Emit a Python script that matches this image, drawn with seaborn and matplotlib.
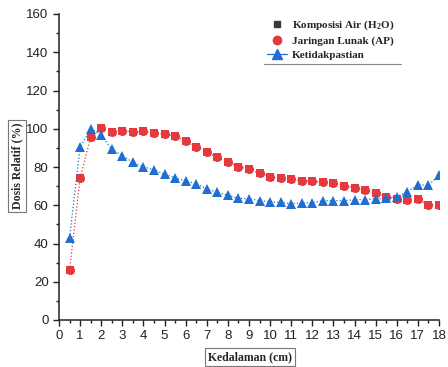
import numpy as np
import pandas as pd
import matplotlib
matplotlib.use("Agg")
import matplotlib.pyplot as plt
from matplotlib.lines import Line2D
from matplotlib.ticker import MultipleLocator
import seaborn as sns

depth = [0.5, 1.0, 1.5, 2.0, 2.5, 3.0, 3.5, 4.0, 4.5, 5.0, 5.5, 6.0, 6.5, 7.0, 7.5, 8.0, 8.5,
         9.0, 9.5, 10.0, 10.5, 11.0, 11.5, 12.0, 12.5, 13.0, 13.5, 14.0, 14.5, 15.0, 15.5,
         16.0, 16.5, 17.0, 17.5, 18.0]
air = [26.1, 74.2, 95.5, 100.2, 98.3, 99.0, 98.3, 98.6, 97.8, 97.1, 96.2, 93.6, 90.6, 87.7,
       85.0, 82.5, 80.2, 78.8, 76.7, 74.9, 74.2, 73.6, 72.7, 72.5, 72.0, 71.8, 70.2, 69.2,
       67.8, 66.6, 64.5, 63.3, 62.7, 63.4, 60.1, 60.1]
jaringan = air
ketidakpastian = [43.0, 90.3, 100.0, 96.7, 89.2, 86.0, 82.4, 80.0, 78.6, 76.1, 74.4, 72.6,
                  71.3, 68.6, 66.7, 65.2, 63.6, 63.4, 62.4, 61.9, 61.5, 60.8, 61.3, 61.3,
                  62.4, 62.4, 62.4, 62.9, 62.9, 63.4, 63.6, 64.5, 67.1, 70.6, 70.4, 75.7]

labels = ["Komposisi Air (H$_\\mathregular{2}$O)", "Jaringan Lunak (AP)", "Ketidakpastian"]

sns.set_style("ticks")
plt.rcParams["font.family"] = ["Liberation Sans", "DejaVu Sans"]

fig = plt.figure(figsize=(4.48, 3.67), dpi=100)
ax = fig.add_axes([59 / 448, 47 / 367, 380 / 448, 306 / 367])

df = pd.DataFrame({"depth": depth, "air": air, "jar": jaringan, "ket": ketidakpastian})
red = "#e5393e"
blue = "#1f6fd0"

sns.lineplot(data=df, x="depth", y="air", ax=ax, color=red, marker="s", markersize=6,
             markeredgewidth=0, linestyle=":", linewidth=0.9)
sns.lineplot(data=df, x="depth", y="jar", ax=ax, color=red, marker="o", markersize=6.5,
             markeredgewidth=0, linestyle="none")
sns.lineplot(data=df, x="depth", y="ket", ax=ax, color=blue, marker="^", markersize=7.5,
             markeredgewidth=0, linestyle=":", linewidth=0.9)

ax.set_xlim(0, 18)
ax.set_ylim(0, 160)
ax.xaxis.set_major_locator(MultipleLocator(1))
ax.xaxis.set_minor_locator(MultipleLocator(0.5))
ax.yaxis.set_major_locator(MultipleLocator(20))
ax.yaxis.set_minor_locator(MultipleLocator(10))
ax.tick_params(which="major", direction="out", length=4, width=1, labelsize=9.5, colors="#222222")
ax.tick_params(which="minor", direction="out", length=2.5, width=1)
for s in ["top", "right"]:
    ax.spines[s].set_visible(False)
for s in ["left", "bottom"]:
    ax.spines[s].set_linewidth(1.1)
    ax.spines[s].set_color("#222222")

lab_font = dict(family="Liberation Serif", weight="bold", size=8.5)
box = dict(boxstyle="square,pad=0.25", fc="white", ec="#777777", lw=0.8)
ax.set_xlabel("")
ax.set_ylabel("")
fig.text(250 / 448, 1 - 357 / 367, "Kedalaman (cm)", ha="center", va="center", bbox=box, **lab_font)
fig.text(17 / 448, 1 - 166 / 367, "Dosis Relatif (%)", ha="center", va="center", rotation=90,
         bbox=box, **lab_font)

plt.rcParams["mathtext.fontset"] = "custom"
plt.rcParams["mathtext.rm"] = "Liberation Serif:bold"
handles = [
    Line2D([], [], color="#3a3a3a", marker="s", linestyle="none", markersize=5),
    Line2D([], [], color=red, marker="o", linestyle="none", markersize=6),
    Line2D([], [], color=blue, marker="^", linestyle="-", linewidth=0.9, markersize=6.5),
]
leg = ax.legend(handles, labels, loc="upper left", bbox_to_anchor=(0.535, 1.0), frameon=False,
                prop=dict(family="Liberation Serif", weight="bold", size=8), handlelength=1.8,
                handletextpad=0.5, labelspacing=0.35, borderaxespad=0)
ax.plot([0.54, 0.9], [0.835, 0.835], transform=ax.transAxes, color="#888888", lw=0.8, clip_on=False)

fig.savefig("out.png", dpi=100)
